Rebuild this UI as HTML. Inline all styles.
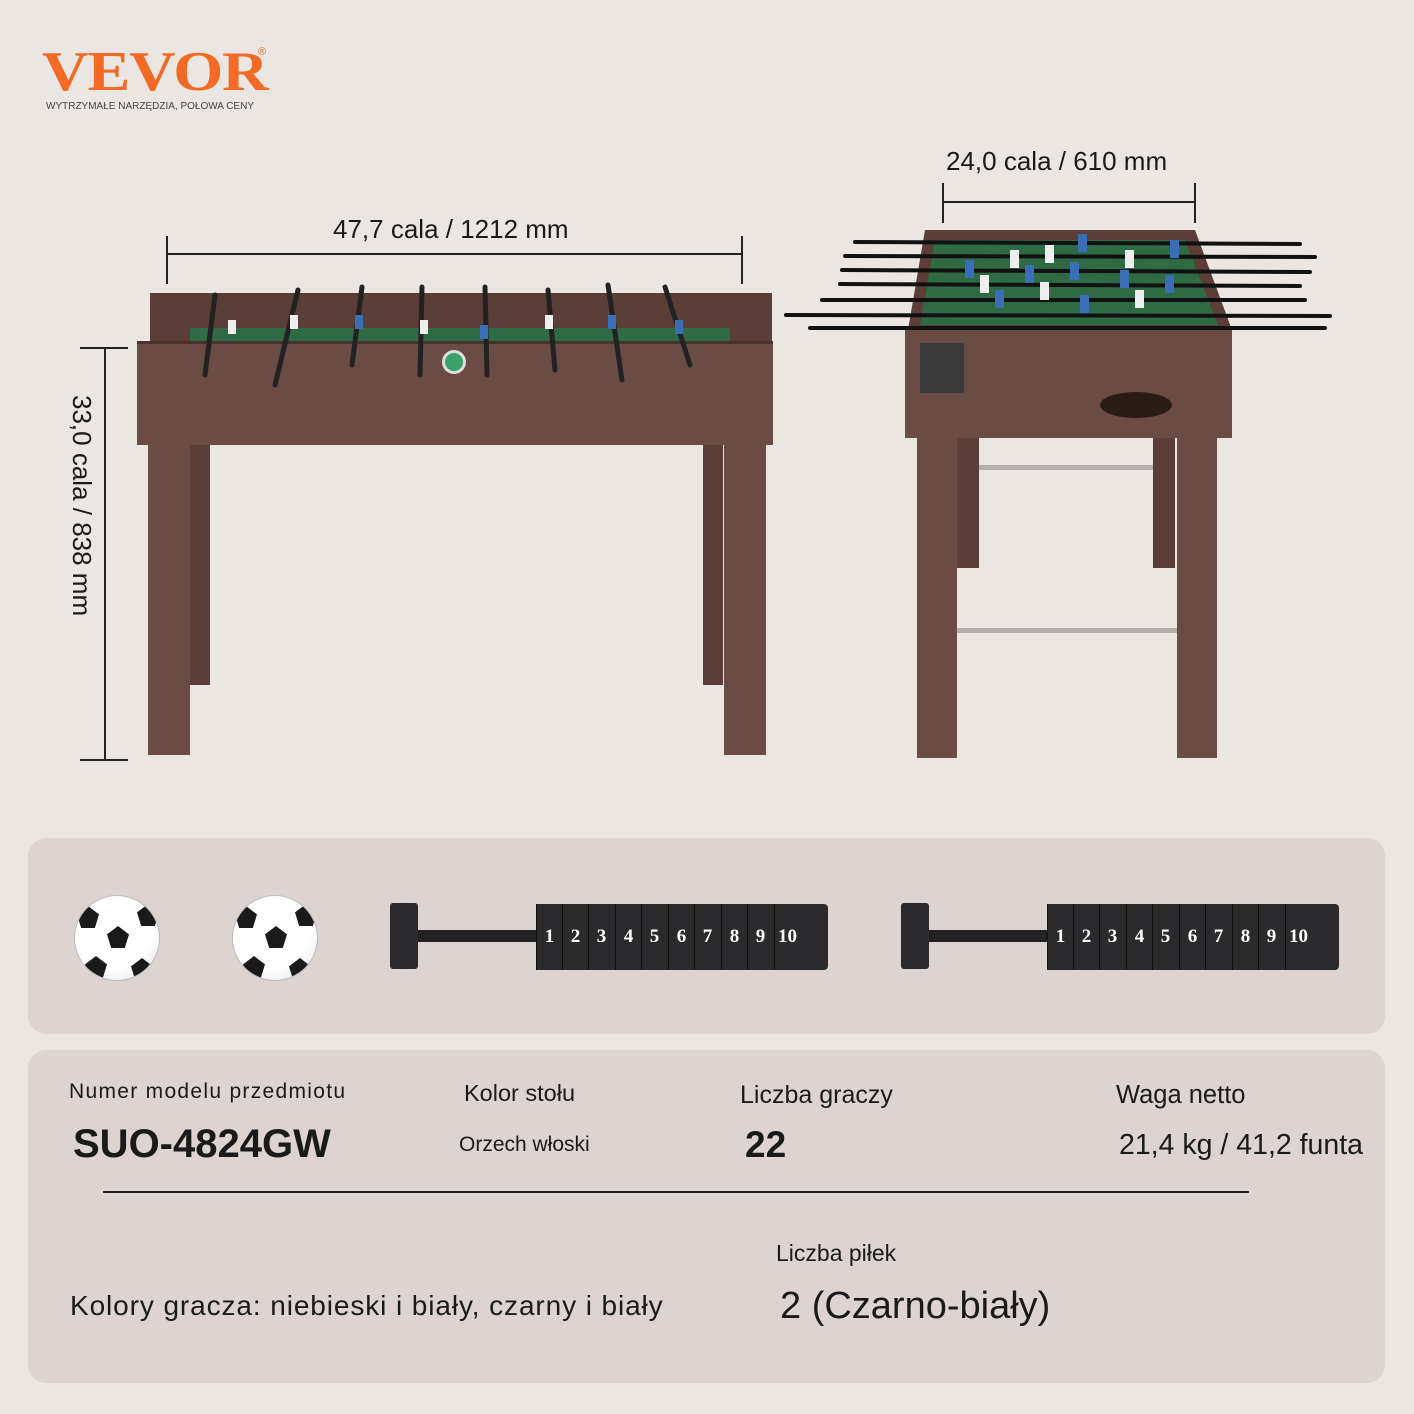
<!DOCTYPE html>
<html><head><meta charset="utf-8"><style>
*{margin:0;padding:0;box-sizing:border-box}
body{width:1414px;height:1414px;background:#ebe6e1;position:relative;overflow:hidden;font-family:"Liberation Sans",sans-serif;color:#1a1a1a}
.a{position:absolute}
.w{background:#6b4c44}
.wd{background:#5a3e37}
.panel{position:absolute;background:#ddd4d1;border-radius:18px}
.t{position:absolute;white-space:nowrap}
.dig{position:absolute;top:0;width:26px;height:66px;background:#2b2b2d;border-left:1px solid #111;color:#fff;font-family:"Liberation Serif",serif;font-weight:bold;font-size:19px;text-align:center;line-height:66px}
.ball{position:absolute;width:86px;height:86px;border-radius:50%;background:radial-gradient(circle at 40% 35%,#fff 0 60%,#ddd 100%);border:1px solid #bbb;overflow:hidden}
.ball i{position:absolute;background:#1a1a1a;width:22px;height:22px;clip-path:polygon(50% 0,100% 38%,81% 100%,19% 100%,0 38%)}
</style></head><body>
<div class="t" style="left:42px;top:40px;font-family:'Liberation Serif',serif;font-weight:bold;font-size:56px;color:#f26a25;letter-spacing:-1px;transform:scaleX(1.15);transform-origin:left">VEVOR</div>
<div class="t" style="left:258px;top:46px;font-size:11px;color:#f26a25">®</div>
<div class="t" style="left:46px;top:101px;font-size:10px;color:#444">WYTRZYMAŁE NARZĘDZIA, POŁOWA CENY</div>

<div class="t" style="left:333px;top:214px;font-size:26px">47,7 cala / 1212 mm</div>
<div class="a" style="left:166px;top:253px;width:577px;height:2px;background:#222"></div>
<div class="a" style="left:166px;top:236px;width:2px;height:48px;background:#222"></div>
<div class="a" style="left:741px;top:236px;width:2px;height:48px;background:#222"></div>
<div class="a" style="left:104px;top:347px;width:2px;height:414px;background:#222"></div>
<div class="a" style="left:80px;top:347px;width:48px;height:2px;background:#222"></div>
<div class="a" style="left:80px;top:759px;width:48px;height:2px;background:#222"></div>
<div class="t" style="top:395px;font-size:26px;transform:rotate(90deg);transform-origin:0 0;left:97px">33,0 cala / 838 mm</div>

<div class="a wd" style="left:190px;top:440px;width:20px;height:245px"></div>
<div class="a wd" style="left:703px;top:440px;width:20px;height:245px"></div>
<div class="a w" style="left:148px;top:440px;width:42px;height:315px"></div>
<div class="a w" style="left:724px;top:440px;width:42px;height:315px"></div>
<div class="a wd" style="left:150px;top:293px;width:622px;height:50px"></div>
<div class="a" style="left:190px;top:328px;width:540px;height:16px;background:#2f6b45"></div>
<div class="a w" style="left:137px;top:341px;width:636px;height:104px;border-top:3px solid #4a332d"></div>
<div class="a" style="left:442px;top:350px;width:24px;height:24px;border-radius:50%;background:#3aa36a;border:3px solid #ddd"></div>
<svg class="a" style="left:130px;top:275px" width="660" height="120">
<g stroke="#222" stroke-width="5" stroke-linecap="round">
<line x1="85" y1="20" x2="75" y2="100"/><line x1="168" y1="15" x2="145" y2="110"/><line x1="232" y1="12" x2="222" y2="90"/><line x1="292" y1="12" x2="290" y2="100"/><line x1="355" y1="12" x2="357" y2="100"/><line x1="418" y1="15" x2="425" y2="95"/><line x1="478" y1="10" x2="492" y2="105"/><line x1="535" y1="12" x2="560" y2="90"/>
</g>
<g fill="#3a6fb8"><rect x="225" y="40" width="8" height="14"/><rect x="350" y="50" width="8" height="14"/><rect x="478" y="40" width="8" height="14"/><rect x="545" y="45" width="8" height="14"/></g>
<g fill="#eee"><rect x="160" y="40" width="8" height="14"/><rect x="290" y="45" width="8" height="14"/><rect x="415" y="40" width="8" height="14"/><rect x="98" y="45" width="8" height="14"/></g>
</svg>

<div class="t" style="left:946px;top:146px;font-size:26px">24,0 cala / 610 mm</div>
<div class="a" style="left:942px;top:201px;width:254px;height:2px;background:#222"></div>
<div class="a" style="left:942px;top:183px;width:2px;height:40px;background:#222"></div>
<div class="a" style="left:1194px;top:183px;width:2px;height:40px;background:#222"></div>

<div class="a wd" style="left:957px;top:430px;width:22px;height:138px"></div>
<div class="a wd" style="left:1153px;top:430px;width:22px;height:138px"></div>
<div class="a" style="left:979px;top:465px;width:174px;height:5px;background:#b5b0ad"></div>
<div class="a" style="left:957px;top:628px;width:220px;height:5px;background:#b5b0ad"></div>
<div class="a w" style="left:917px;top:430px;width:40px;height:328px"></div>
<div class="a w" style="left:1177px;top:430px;width:40px;height:328px"></div>
<svg class="a" style="left:780px;top:220px" width="560" height="220">
<polygon points="128,110 145,10 415,10 452,110" fill="#5a3e37"/>
<polygon points="140,105 155,20 405,20 438,105" fill="#2e6b44"/>
<polygon points="125,108 452,110 452,218 125,218" fill="#6b4c44"/>
<rect x="140" y="123" width="44" height="50" fill="#3a3a3a"/>
<ellipse cx="356" cy="185" rx="36" ry="13" fill="#2a1b17"/>
<g stroke="#111" stroke-width="4" stroke-linecap="round">
<line x1="75" y1="22" x2="520" y2="24"/><line x1="65" y1="36" x2="535" y2="37"/><line x1="62" y1="50" x2="530" y2="52"/><line x1="60" y1="64" x2="520" y2="66"/><line x1="42" y1="80" x2="525" y2="80"/><line x1="6" y1="95" x2="550" y2="96"/><line x1="30" y1="108" x2="545" y2="108"/>
</g>
<g fill="#3a6fb8"><rect x="298" y="14" width="9" height="18"/><rect x="390" y="20" width="9" height="18"/><rect x="185" y="40" width="9" height="18"/><rect x="245" y="45" width="9" height="18"/><rect x="290" y="42" width="9" height="18"/><rect x="340" y="50" width="9" height="18"/><rect x="385" y="55" width="9" height="18"/><rect x="215" y="70" width="9" height="18"/><rect x="300" y="75" width="9" height="18"/></g>
<g fill="#eee"><rect x="265" y="25" width="9" height="18"/><rect x="230" y="30" width="9" height="18"/><rect x="345" y="30" width="9" height="18"/><rect x="200" y="55" width="9" height="18"/><rect x="260" y="62" width="9" height="18"/><rect x="355" y="70" width="9" height="18"/></g>
</svg>

<div class="panel" style="left:28px;top:838px;width:1357px;height:196px"></div>
<div class="ball" style="left:74px;top:895px"><i style="left:32px;top:30px"></i><i style="left:2px;top:10px"></i><i style="left:62px;top:8px"></i><i style="left:10px;top:60px"></i><i style="left:56px;top:62px"></i></div>
<div class="ball" style="left:232px;top:895px"><i style="left:32px;top:30px"></i><i style="left:2px;top:10px"></i><i style="left:62px;top:8px"></i><i style="left:10px;top:60px"></i><i style="left:56px;top:62px"></i></div>

<div class="a" style="left:390px;top:903px;width:28px;height:66px;background:#2b2b2d;border-radius:3px"></div>
<div class="a" style="left:418px;top:930px;width:120px;height:12px;background:#222"></div>
<div class="a" style="left:536px;top:904px;width:292px;height:66px;background:#2b2b2d;border-radius:4px">
<div class="dig" style="left:0">1</div><div class="dig" style="left:26px">2</div><div class="dig" style="left:52px">3</div><div class="dig" style="left:79px">4</div><div class="dig" style="left:105px">5</div><div class="dig" style="left:132px">6</div><div class="dig" style="left:158px">7</div><div class="dig" style="left:185px">8</div><div class="dig" style="left:211px">9</div><div class="dig" style="left:238px">10</div></div>

<div class="a" style="left:901px;top:903px;width:28px;height:66px;background:#2b2b2d;border-radius:3px"></div>
<div class="a" style="left:929px;top:930px;width:120px;height:12px;background:#222"></div>
<div class="a" style="left:1047px;top:904px;width:292px;height:66px;background:#2b2b2d;border-radius:4px">
<div class="dig" style="left:0">1</div><div class="dig" style="left:26px">2</div><div class="dig" style="left:52px">3</div><div class="dig" style="left:79px">4</div><div class="dig" style="left:105px">5</div><div class="dig" style="left:132px">6</div><div class="dig" style="left:158px">7</div><div class="dig" style="left:185px">8</div><div class="dig" style="left:211px">9</div><div class="dig" style="left:238px">10</div></div>

<div class="panel" style="left:28px;top:1050px;width:1357px;height:333px"></div>
<div class="t" style="left:69px;top:1080px;font-size:21px;letter-spacing:1.3px">Numer modelu przedmiotu</div>
<div class="t" style="left:73px;top:1122px;font-size:40px;font-weight:bold">SUO-4824GW</div>
<div class="t" style="left:464px;top:1080px;font-size:23.5px">Kolor stołu</div>
<div class="t" style="left:459px;top:1133px;font-size:21px">Orzech włoski</div>
<div class="t" style="left:740px;top:1081px;font-size:25px">Liczba graczy</div>
<div class="t" style="left:745px;top:1124px;font-size:37px;font-weight:bold">22</div>
<div class="t" style="left:1116px;top:1081px;font-size:25.5px">Waga netto</div>
<div class="t" style="left:1119px;top:1129px;font-size:28.5px">21,4 kg / 41,2 funta</div>
<div class="a" style="left:103px;top:1191px;width:1146px;height:2px;background:#222"></div>
<div class="t" style="left:776px;top:1240px;font-size:23px">Liczba piłek</div>
<div class="t" style="left:70px;top:1290px;font-size:28px;letter-spacing:0.9px">Kolory gracza: niebieski i biały, czarny i biały</div>
<div class="t" style="left:780px;top:1285px;font-size:38px">2 (Czarno-biały)</div>
</body></html>
